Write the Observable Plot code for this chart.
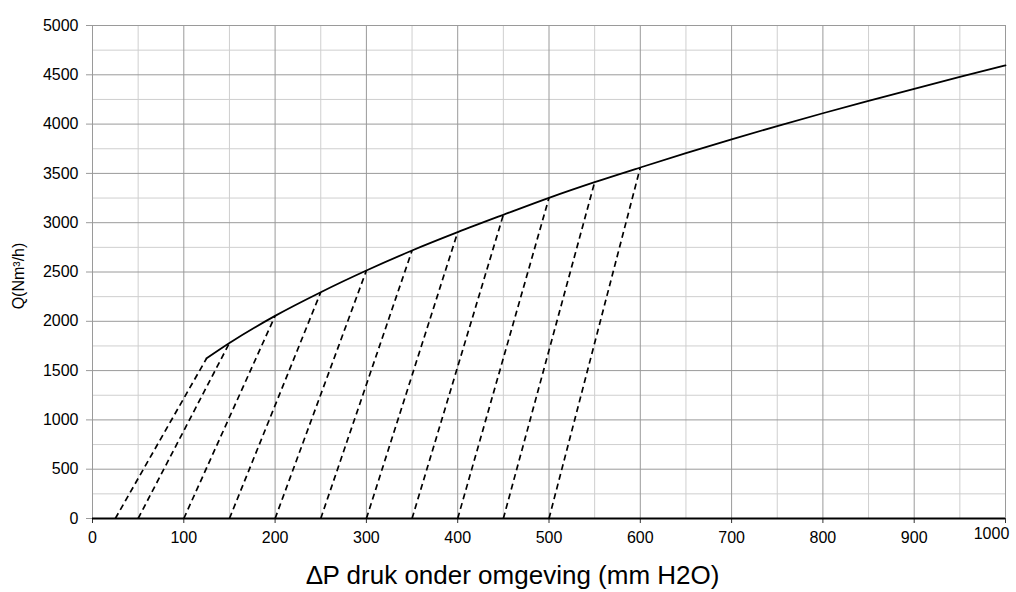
<!DOCTYPE html>
<html>
<head>
<meta charset="utf-8">
<script src="https://cdn.jsdelivr.net/npm/d3@7"></script>
<script src="https://cdn.jsdelivr.net/npm/@observablehq/plot@0.6"></script>
<style>
  html, body { margin: 0; padding: 0; background: #fff; }
  #chart { width: 1016px; height: 592px; }
</style>
</head>
<body>
<div id="chart"></div>
<script>
// Main curve: pressure difference (mm H2O) vs flow Q (Nm3/h)
const curveP = [125, 150, 200, 250, 300, 350, 400, 450, 500, 550, 600, 650, 700, 750, 800, 850, 900, 950, 1000];
const curveQ = [1625, 1780, 2055, 2295, 2515, 2718, 2904, 3080, 3252, 3411, 3560, 3705, 3845, 3980, 4110, 4235, 4358, 4478, 4595];

// Dashed lines: from (start, 0) up to a point on the curve
const dashStartP = [25, 50, 100, 150, 200, 250, 300, 350, 400, 450, 500];
const dashEndP   = [125, 150, 200, 250, 300, 350, 400, 450, 500, 550, 600];
const dashEndQ   = [1625, 1780, 2055, 2295, 2515, 2718, 2904, 3080, 3252, 3411, 3560];

// Ticks and grid
const xTicks = [0, 100, 200, 300, 400, 500, 600, 700, 800, 900, 1000];
const xLastTick = [1000];
const xMinor = [50, 150, 250, 350, 450, 550, 650, 750, 850, 950];
const yTicks = [0, 500, 1000, 1500, 2000, 2500, 3000, 3500, 4000, 4500, 5000];
const yMinor = [250, 750, 1250, 1750, 2250, 2750, 3250, 3750, 4250, 4750];

const xLabel = "∆P druk onder omgeving (mm H2O)";
const yLabel = "Q(Nm³/h)";

const curve = curveP.map((p, i) => ({p, q: curveQ[i]}));
const dashes = dashStartP.map((p, i) => ({x1: p, y1: 0, x2: dashEndP[i], y2: dashEndQ[i]}));

const chart = Plot.plot({
  width: 1016,
  height: 592,
  marginLeft: 92,
  marginRight: 11,
  marginTop: 25,
  marginBottom: 74,
  style: {fontFamily: "'Liberation Sans', Arial, sans-serif", background: "#fff", overflow: "visible"},
  x: {domain: [0, 1000]},
  y: {domain: [0, 5000]},
  marks: [
    Plot.ruleX(xMinor, {stroke: "#cfcfcf", strokeWidth: 1}),
    Plot.ruleY(yMinor, {stroke: "#cfcfcf", strokeWidth: 1}),
    Plot.ruleX(xTicks, {stroke: "#9a9a9a", strokeWidth: 1}),
    Plot.ruleY(yTicks, {stroke: "#9a9a9a", strokeWidth: 1}),
    Plot.axisY({ticks: yTicks, tickSize: 6, tickPadding: 8, fontSize: 16, stroke: "#9a9a9a", color: "#000", label: null, tickFormat: d => String(d)}),
    Plot.axisX({ticks: xTicks, tickSize: 5, tickPadding: 8, fontSize: 16, stroke: "#333", color: "#000", label: null, tickFormat: d => d === 1000 ? "" : String(d)}),
    Plot.text(xLastTick, {x: d => d, frameAnchor: "bottom", lineAnchor: "top", dy: 9, dx: -14, fontSize: 16, fill: "#000", text: d => String(d)}),
    Plot.ruleY([0], {stroke: "#000", strokeWidth: 2}),
    Plot.link(dashes, {x1: "x1", y1: "y1", x2: "x2", y2: "y2", stroke: "#000", strokeWidth: 1.7, strokeDasharray: "6,4"}),
    Plot.line(curve, {x: "p", y: "q", stroke: "#000", strokeWidth: 1.8, curve: "monotone-x"}),
    Plot.text([xLabel], {frameAnchor: "bottom", lineAnchor: "middle", textAnchor: "middle", dy: 57, dx: -36, fontSize: 26, fill: "#000", text: d => d}),
    Plot.text([yLabel], {frameAnchor: "left", textAnchor: "middle", lineAnchor: "middle", dx: -74, dy: 4, rotate: -90, fontSize: 16, fill: "#000", text: d => d})
  ]
});
document.getElementById("chart").appendChild(chart);
</script>
</body>
</html>
